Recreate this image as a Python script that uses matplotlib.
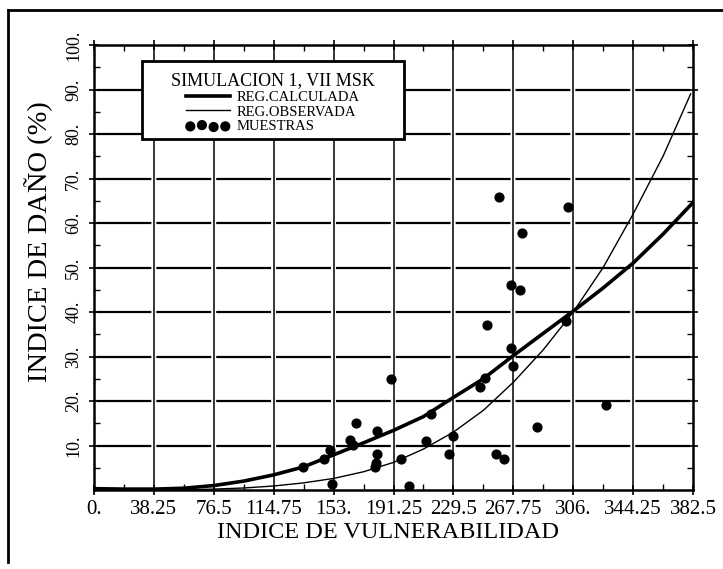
import matplotlib
matplotlib.use('Agg')
import matplotlib.pyplot as plt
from matplotlib.patches import Rectangle
from matplotlib.lines import Line2D
import numpy as np

plt.rcParams['font.family'] = ['Liberation Serif', 'DejaVu Serif']
plt.rcParams['lines.scale_dashes'] = False

# muestras (indice de vulnerabilidad, indice de dano %)
muestras_x = [133.7, 147.0, 150.7, 152.2, 163.5, 165.6, 167.0, 179.4, 180.0, 181.0,
              181.0, 189.7, 196.0, 201.0, 212.0, 215.5, 227.0, 229.5, 246.8, 249.7,
              251.0, 256.7, 258.8, 261.8, 266.0, 266.0, 267.6, 272.2, 273.0, 283.2,
              301.5, 302.9, 327.0]
muestras_y = [5.1, 7.0, 9.0, 1.3, 11.2, 10.1, 15.0, 5.2, 6.0, 8.1,
              13.2, 25.0, 7.0, 1.0, 11.0, 17.1, 8.1, 12.1, 23.1, 25.2,
              37.1, 8.1, 65.8, 6.9, 46.0, 32.0, 27.9, 45.0, 57.7, 14.1,
              38.0, 63.7, 19.2]

# regresion calculada (trazo grueso)
calc_x = [0, 19.125, 38.25, 57.375, 76.5, 95.625, 114.75, 133.875, 153, 172.125,
          191.25, 210.375, 229.5, 248.625, 267.75, 286.875, 306, 325.125, 344.25,
          363.375, 382.5]
calc_y = [0.3, 0.2, 0.2, 0.4, 1.0, 2.0, 3.4, 5.2, 7.9, 10.6,
          13.4, 16.5, 20.8, 25.0, 30.2, 35.2, 40.2, 45.4, 51.0,
          57.5, 64.6]

# regresion observada (trazo fino)
obs_x = [0, 19.125, 38.25, 57.375, 76.5, 95.625, 114.75, 133.875, 153, 172.125,
         191.25, 210.375, 229.5, 248.625, 267.75, 286.875, 306, 325.125, 344.25,
         363.375, 381.0]
obs_y = [0.0, 0.0, 0.0, 0.05, 0.2, 0.45, 0.9, 1.6, 2.6, 4.1,
         6.2, 9.2, 13.0, 17.9, 24.2, 31.5, 40.0, 50.0, 62.0,
         75.0, 89.0]

xticks = [0, 38.25, 76.5, 114.75, 153, 191.25, 229.5, 267.75, 306, 344.25, 382.5]
xlabels = ['0.', '38.25', '76.5', '114.75', '153.', '191.25', '229.5', '267.75',
           '306.', '344.25', '382.5']
yticks = [10, 20, 30, 40, 50, 60, 70, 80, 90, 100]
ylabels = ['10.', '20.', '30.', '40.', '50.', '60.', '70.', '80.', '90.', '100.']

fig = plt.figure(figsize=(7.23, 5.69), dpi=100)
ax = fig.add_axes([94 / 723, 1 - 490 / 569, 599 / 723, 445 / 569])

ax.set_xlim(0, 382.5)
ax.set_ylim(0, 100)

# rejilla
for xv in xticks[1:-1]:
    ax.axvline(xv, color='black', lw=1.1, zorder=1)
for yv in yticks[:-1]:
    ax.axhline(yv, color='black', lw=1.6, zorder=1, linestyle=(41.3, (39.5, 3.6)))

ax.plot(calc_x, calc_y, color='black', lw=2.6, zorder=3, label='REG.CALCULADA')
ax.plot(obs_x, obs_y, color='black', lw=1.0, zorder=3, label='REG.OBSERVADA')
ax.scatter(muestras_x, muestras_y, s=40, color='black', zorder=4, label='MUESTRAS')

ax.set_xticks(xticks)
ax.set_xticklabels(xlabels, fontsize=15)
ax.set_yticks(yticks)
ax.set_yticklabels(ylabels, fontsize=13, rotation=90, va='center')
ax.set_xticks(np.arange(19.125, 382.5, 38.25), minor=True)
ax.set_yticks(np.arange(5, 100, 10), minor=True)
ax.tick_params(which='major', direction='inout', length=7, width=1.2,
               top=True, right=True, pad=4)
ax.tick_params(which='minor', direction='in', length=4, width=1.0,
               top=True, right=True)
ax.tick_params(axis='y', pad=5)
for sp in ax.spines.values():
    sp.set_linewidth(1.8)

fig.text(39 / 723, 1 - 242 / 569, 'INDICE DE DAÑO (%)', rotation=90,
         fontsize=20.5, ha='center', va='center')
fig.text(388 / 723, 1 - 533 / 569, 'INDICE DE VULNERABILIDAD',
         fontsize=17.5, ha='center', va='center')

# caja de la leyenda
box = Rectangle((142 / 723, 1 - 139 / 569), 262 / 723, 78 / 569,
                transform=fig.transFigure, facecolor='white', edgecolor='black',
                lw=2.0, zorder=6, clip_on=False)
ax.add_patch(box)
leg = ax.legend(loc='upper center', bbox_to_anchor=(273 / 723, 1 - 62 / 569),
                bbox_transform=fig.transFigure, frameon=False, fontsize=10.5,
                title='SIMULACION 1, VII MSK', title_fontsize=13,
                scatterpoints=4, handlelength=3.0, handletextpad=0.5,
                labelspacing=0.1, borderpad=0.2)
leg.set_zorder(7)

# marco exterior
fig.add_artist(Line2D([8 / 723, 1.0], [1 - 10 / 569, 1 - 10 / 569],
                      transform=fig.transFigure, color='black', lw=2.0))
fig.add_artist(Line2D([8 / 723, 8 / 723], [1 - 10 / 569, 1 - 562 / 569],
                      transform=fig.transFigure, color='black', lw=2.0))

fig.savefig('out.png', dpi=100)
